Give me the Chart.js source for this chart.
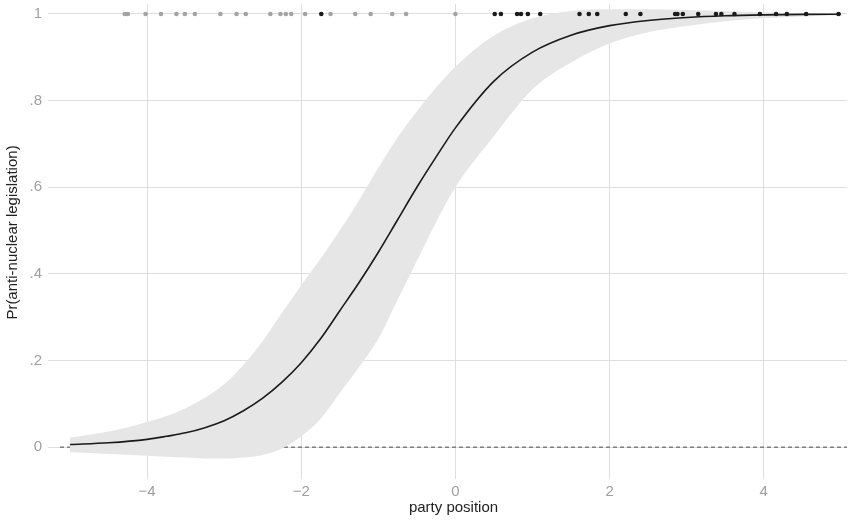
<!DOCTYPE html>
<html>
<head>
<meta charset="utf-8">
<script src="https://cdn.jsdelivr.net/npm/chart.js@4"></script>
<style>
  html, body { margin: 0; padding: 0; background: #fff; }
  #wrap { width: 851px; height: 522px; }
</style>
</head>
<body>
<div id="wrap"><canvas id="chart"></canvas></div>
<script>
// party position grid and predicted probability with its confidence band
const xs    = [-5, -4.5, -4, -3.75, -3.5, -3.25, -3, -2.75, -2.5, -2.25, -2, -1.75, -1.5, -1.25, -1, -0.75, -0.5, -0.25, 0, 0.5, 1, 1.5, 2, 2.5, 3, 3.5, 4, 4.5, 5];
const pr    = [0.006, 0.01, 0.018, 0.025, 0.033, 0.045, 0.061, 0.084, 0.113, 0.15, 0.195, 0.25, 0.315, 0.38, 0.45, 0.525, 0.60, 0.67, 0.737, 0.845, 0.912, 0.951, 0.973, 0.985, 0.992, 0.996, 0.998, 0.999, 0.9995];
const upper = [0.022, 0.036, 0.058, 0.072, 0.09, 0.114, 0.145, 0.19, 0.245, 0.31, 0.374, 0.435, 0.50, 0.57, 0.645, 0.715, 0.775, 0.83, 0.878, 0.95, 0.99, 1.007, 1.011, 1.011, 1.009, 1.007, 1.004, 1.002, 1.001];
const lower = [-0.012, -0.016, -0.02, -0.022, -0.024, -0.026, -0.026, -0.024, -0.018, -0.003, 0.025, 0.065, 0.125, 0.185, 0.25, 0.34, 0.43, 0.52, 0.60, 0.718, 0.826, 0.888, 0.932, 0.958, 0.972, 0.983, 0.99, 0.994, 0.997];

// observed parties (rug along the top)
const grayParties  = [-4.29, -4.25, -4.02, -3.82, -3.62, -3.51, -3.38, -3.05, -2.84, -2.72, -2.40, -2.27, -2.20, -2.13, -1.95, -1.62, -1.30, -1.10, -0.82, -0.64, 0];
const blackParties = [-1.74, 0.51, 0.59, 0.80, 0.85, 0.94, 1.10, 1.61, 1.73, 1.84, 2.21, 2.40, 2.85, 2.88, 2.95, 3.15, 3.38, 3.45, 3.62, 3.95, 4.16, 4.30, 4.55, 4.97];
const rugY = 1;

const xTicks = [-4, -2, 0, 2, 4];
const yTicks = [0, 0.2, 0.4, 0.6, 0.8, 1];
const xRange = [-5.13, 5.08];
const yRange = [-0.032, 1.023];

const pts = (a, b) => a.map((v, i) => ({ x: v, y: b[i] }));

const font = { family: '"Liberation Sans", Arial, sans-serif', size: 15 };
const gridColor = '#dedede';

new Chart(document.getElementById('chart'), {
  type: 'scatter',
  data: {
    datasets: [
      {
        label: 'no',
        data: grayParties.map(x => ({ x: x, y: rugY })),
        backgroundColor: '#a3a3a3',
        borderWidth: 0,
        pointRadius: 2.3,
        order: 0
      },
      {
        label: 'yes',
        data: blackParties.map(x => ({ x: x, y: rugY })),
        backgroundColor: '#1a1a1a',
        borderWidth: 0,
        pointRadius: 2.3,
        order: 0
      },
      {
        label: 'pr',
        type: 'line',
        data: pts(xs, pr),
        borderColor: '#1a1a1a',
        borderWidth: 1.6,
        pointRadius: 0,
        cubicInterpolationMode: 'monotone',
        fill: false,
        order: 1
      },
      {
        label: 'upper',
        type: 'line',
        data: pts(xs, upper),
        borderWidth: 0,
        borderColor: 'rgba(0,0,0,0)',
        backgroundColor: '#e6e6e7',
        pointRadius: 0,
        cubicInterpolationMode: 'monotone',
        fill: '+1',
        order: 2
      },
      {
        label: 'lower',
        type: 'line',
        data: pts(xs, lower),
        borderWidth: 0,
        borderColor: 'rgba(0,0,0,0)',
        pointRadius: 0,
        cubicInterpolationMode: 'monotone',
        fill: false,
        order: 3
      },
      {
        label: 'zero',
        type: 'line',
        data: [{ x: xRange[0], y: 0 }, { x: xRange[1], y: 0 }],
        borderColor: '#4a4a4a',
        borderWidth: 1,
        borderDash: [4, 3],
        pointRadius: 0,
        fill: false,
        order: 4
      }
    ]
  },
  options: {
    responsive: true,
    maintainAspectRatio: false,
    animation: false,
    layout: { padding: 0 },
    plugins: {
      legend: { display: false },
      tooltip: { enabled: false }
    },
    scales: {
      x: {
        type: 'linear',
        min: xRange[0],
        max: xRange[1],
        afterBuildTicks: (s) => { s.ticks = xTicks.map(v => ({ value: v })); },
        afterFit: (s) => { s.height = 61; s.paddingLeft = 0; s.paddingRight = 0; },
        ticks: {
          font: font,
          color: '#a0a0a0',
          padding: 4,
          callback: (v) => String(v).replace('-', '\u2212')
        },
        grid: { color: gridColor, tickColor: gridColor, tickLength: 18, lineWidth: 1 },
        border: { display: false },
        title: {
          display: true,
          text: 'party position',
          font: font,
          color: '#222',
          padding: { top: 0, bottom: 5 }
        }
      },
      y: {
        min: yRange[0],
        max: yRange[1],
        afterBuildTicks: (s) => { s.ticks = yTicks.map(v => ({ value: v })); },
        afterFit: (s) => { s.width = 60; s.paddingTop = 0; s.paddingBottom = 0; },
        ticks: {
          font: font,
          color: '#a0a0a0',
          padding: 6,
          callback: (v) => (v === 0 || v === 1) ? String(v) : String(+v.toFixed(1)).replace('0.', '.')
        },
        grid: { color: gridColor, tickColor: gridColor, tickLength: 12, lineWidth: 1 },
        border: { display: false },
        title: {
          display: true,
          text: 'Pr(anti-nuclear legislation)',
          font: font,
          color: '#222',
          padding: { top: 4, bottom: 0 }
        }
      }
    }
  }
});
</script>
</body>
</html>
